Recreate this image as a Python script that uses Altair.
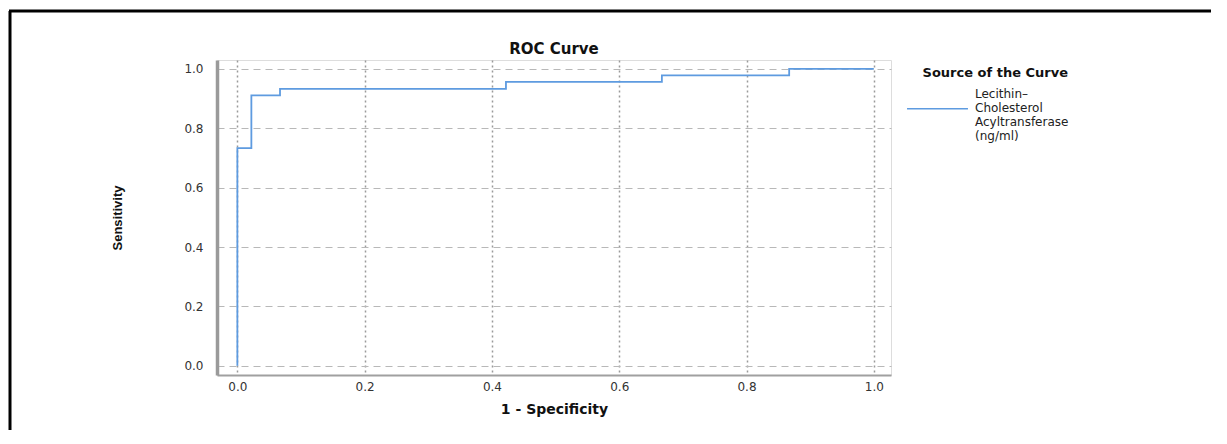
import altair as alt
import pandas as pd

# ROC curve points (1 - specificity, sensitivity)
fpr = [0.0, 0.0, 0.022, 0.067, 0.422, 0.667, 0.867, 1.0]
tpr = [0.0, 0.733, 0.911, 0.933, 0.956, 0.978, 1.0, 1.0]
series_name = "Lecithin–\nCholesterol\nAcyltransferase\n(ng/ml)"
ticks = [0.0, 0.2, 0.4, 0.6, 0.8, 1.0]

df = pd.DataFrame({"fpr": fpr, "tpr": tpr, "series": [series_name] * len(fpr)})

W, H = 674, 315
FONT = "DejaVu Sans"
LINE = "#5e9be0"

xscale = alt.Scale(domain=[-0.032, 1.027], nice=False, zero=False)
yscale = alt.Scale(domain=[-0.031, 1.030], nice=False, zero=False)

line = alt.Chart(df).mark_line(interpolate="step-after", strokeWidth=1.8).encode(
    x=alt.X("fpr:Q", scale=xscale,
            axis=alt.Axis(title="1 - Specificity", values=ticks, format=".1f",
                          ticks=False, labelPadding=6, labelFontSize=12,
                          labelFont=FONT, labelColor="#333",
                          domainColor="#a0a0a0", domainWidth=2,
                          grid=True, gridDash=[2, 3], gridColor="#9a9a9a", gridWidth=1.5,
                          titleFont=FONT, titleFontSize=14, titleFontWeight="bold",
                          titleColor="#111", titleX=W / 2, titleY=38,
                          titleAlign="center", titleBaseline="alphabetic")),
    y=alt.Y("tpr:Q", scale=yscale,
            axis=alt.Axis(title="Sensitivity", values=ticks, format=".1f",
                          ticks=False, labelPadding=14, labelFontSize=12,
                          labelFont=FONT, labelColor="#333",
                          domainColor="#9a9a9a", domainWidth=3.5,
                          grid=True, gridDash=[7, 5], gridColor="#b8b8b8", gridWidth=1,
                          titleFont="Liberation Sans", titleFontSize=13,
                          titleFontWeight="bold", titleColor="#111",
                          titleX=-100, titleY=H / 2, titleAngle=270,
                          titleAlign="center", titleBaseline="middle")),
    color=alt.Color("series:N", scale=alt.Scale(range=[LINE]),
                    legend=alt.Legend(title="Source of the Curve", orient="none",
                                      legendX=706, legendY=7, padding=0,
                                      symbolType="M-4,2H4", symbolSize=232,
                                      symbolStrokeWidth=1.5,
                                      labelOffset=29,
                                      labelExpr="split(datum.label, '\\n')",
                                      labelFont=FONT, labelFontSize=12, labelColor="#222",
                                      labelLimit=400,
                                      titleFont=FONT, titleFontSize=13,
                                      titleFontWeight="bold", titleColor="#111",
                                      titleAnchor="end", titlePadding=5)),
)

one = alt.Data(values=[{}])
frame_top = alt.Chart(one).mark_rule(color="black", strokeWidth=3).encode(
    x=alt.value(-208), x2=alt.value(1000), y=alt.value(-49))
frame_left = alt.Chart(one).mark_rule(color="black", strokeWidth=3).encode(
    x=alt.value(-207), y=alt.value(-49), y2=alt.value(380))

chart = alt.layer(frame_top, frame_left, line).properties(
    width=W, height=H,
    autosize="none",
    padding={"left": 209, "top": 52, "right": 320, "bottom": 55},
    title=alt.TitleParams("ROC Curve", frame="group", anchor="middle",
                          baseline="alphabetic", offset=0, dy=59.5,
                          font=FONT, fontSize=15, fontWeight="bold", color="#111"),
).configure_view(stroke=None).configure(background="white")

chart.save("out.html", embed_options={"renderer": "svg", "actions": False})
